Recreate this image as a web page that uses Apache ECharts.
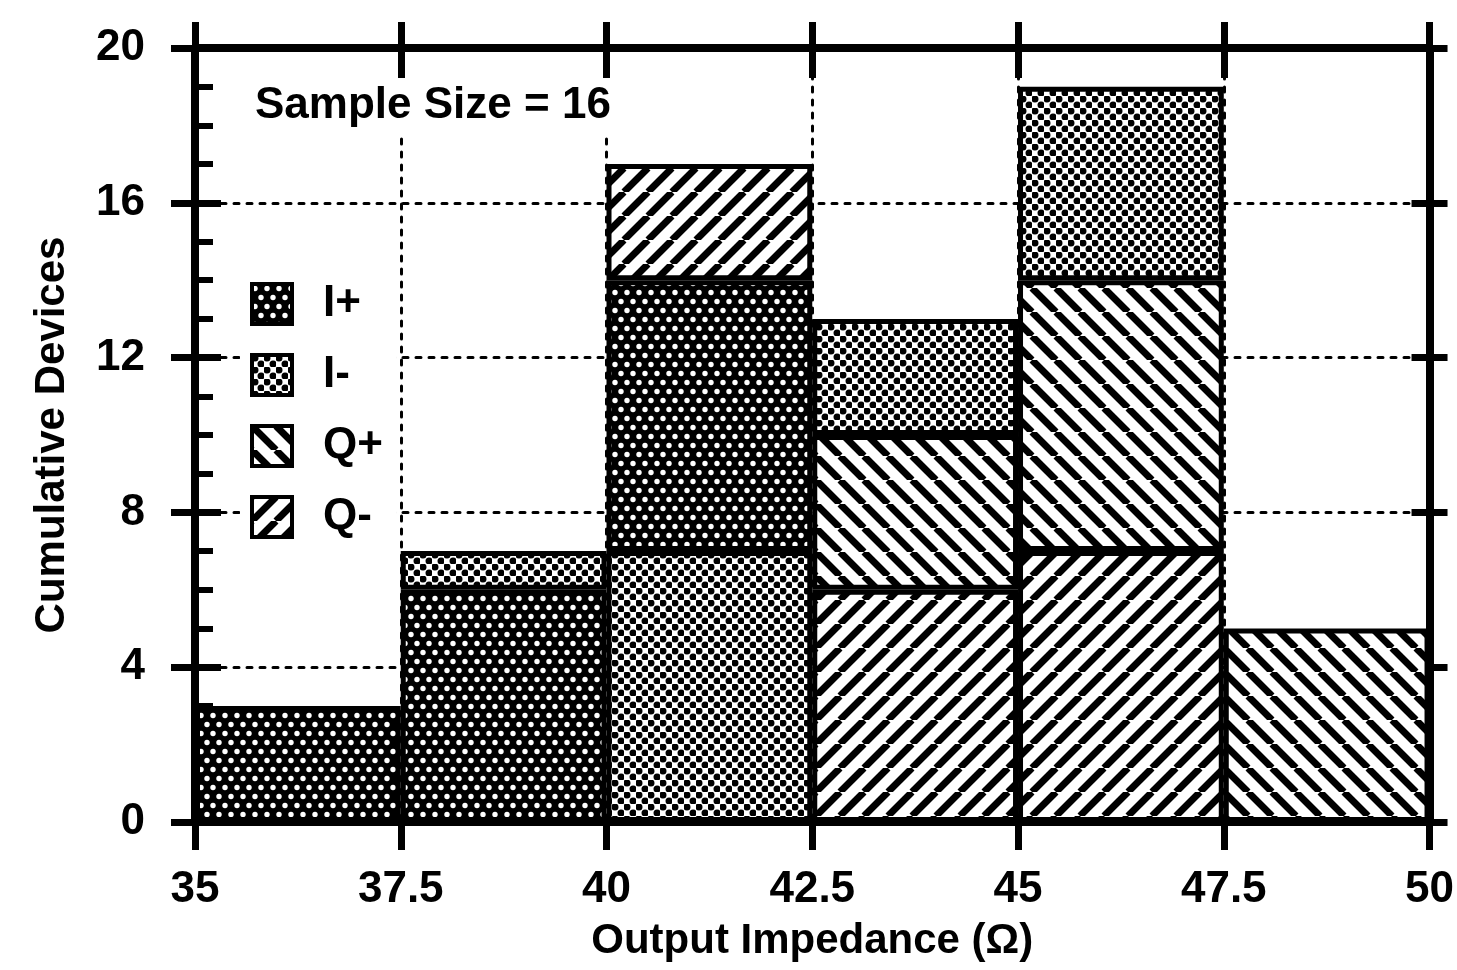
<!DOCTYPE html>
<html>
<head>
<meta charset="utf-8">
<style>
  html, body { margin: 0; padding: 0; background: #fff; }
  #chart { width: 1457px; height: 970px; }
</style>
<script src="https://cdn.jsdelivr.net/npm/echarts@6/dist/echarts.min.js"></script>
</head>
<body>
<div id="chart"></div>
<script>
// histogram bins (lower edge .. upper edge), stacked bottom -> top
var binEdges = [35, 37.5, 40, 42.5, 45, 47.5, 50];
var bins = ['35-37.5', '37.5-40', '40-42.5', '42.5-45', '45-47.5', '47.5-50'];

// the stacking order is not the same in every bin, so I- is split in two series
var iMinusLow  = [null, null, 7, null, null, null];
var iPlus      = [3, 6, 7, null, null, null];
var qMinus     = [null, null, 3, 6, 7, null];
var qPlus      = [null, null, null, 4, 7, 5];
var iMinusHigh = [null, 1, null, 3, 5, null];

var FONT = '"Liberation Sans", Arial, Helvetica, sans-serif';

// fill patterns drawn on small tiles
function pattern(kind) {
    var c = document.createElement('canvas');
    var g;
    if (kind === 'Iplus') {
        c.width = 12; c.height = 18;
        g = c.getContext('2d');
        g.fillStyle = '#000';
        g.fillRect(0, 0, 12, 18);
        g.fillStyle = '#fff';
        [[3, 4.5], [9, 13.5]].forEach(function (p) {
            g.beginPath(); g.arc(p[0], p[1], 2.7, 0, Math.PI * 2); g.fill();
        });
    } else if (kind === 'Iminus') {
        c.width = 12; c.height = 12;
        g = c.getContext('2d');
        g.fillStyle = '#fff';
        g.fillRect(0, 0, 12, 12);
        g.fillStyle = '#000';
        [[3, 3], [9, 9]].forEach(function (p) {
            g.beginPath(); g.arc(p[0], p[1], 3.5, 0, Math.PI * 2); g.fill();
        });
    } else {
        var s = 24;
        c.width = s; c.height = s;
        g = c.getContext('2d');
        g.fillStyle = '#fff';
        g.fillRect(0, 0, s, s);
        g.strokeStyle = '#000';
        g.lineWidth = 7;
        g.beginPath();
        for (var o = -s; o <= s; o += s) {
            if (kind === 'Qplus') {      // "\" stripes
                g.moveTo(o, 0); g.lineTo(o + s, s);
            } else {                     // "/" stripes
                g.moveTo(o, s); g.lineTo(o + s, 0);
            }
        }
        g.stroke();
    }
    return {image: c, repeat: 'repeat'};
}

var fills = {
    'I+': pattern('Iplus'),
    'I-': pattern('Iminus'),
    'Q+': pattern('Qplus'),
    'Q-': pattern('Qminus')
};

function barSeries(name, data) {
    return {
        name: name,
        type: 'bar',
        stack: 'total',
        xAxisIndex: 0,
        yAxisIndex: 0,
        barCategoryGap: '0%',
        data: data,
        itemStyle: {
            color: fills[name],
            borderColor: '#000',
            borderWidth: 5
        },
        emphasis: {disabled: true}
    };
}

var dotted = {show: true, lineStyle: {color: '#000', width: 3, type: [5, 8], cap: 'round'}};
var thick = {show: true, onZero: false, lineStyle: {color: '#000', width: 8}};
var noLine = {show: false, onZero: false};

var myChart = echarts.init(document.getElementById('chart'));
var option = {
    animation: false,
    backgroundColor: '#fff',
    textStyle: {fontFamily: FONT, color: '#000'},
    grid: {left: 195, right: 25, top: 48, bottom: 148},
    title: {
        text: 'Sample Size = 16',
        left: 245,
        top: 78,
        padding: [6, 10],
        backgroundColor: '#fff',
        textStyle: {fontFamily: FONT, fontSize: 44, fontWeight: 'bold', color: '#000'}
    },
    legend: {
        data: ['I+', 'I-', 'Q+', 'Q-'],
        orient: 'vertical',
        left: 240,
        top: 276,
        padding: [6, 14, 6, 10],
        backgroundColor: '#fff',
        icon: 'rect',
        itemWidth: 40,
        itemHeight: 40,
        itemGap: 27,
        selectedMode: false,
        itemStyle: {borderColor: '#000', borderWidth: 4},
        textStyle: {fontFamily: FONT, fontSize: 44, fontWeight: 'bold', color: '#000', padding: [0, 0, 0, 26]}
    },
    xAxis: [
        {type: 'category', data: bins, show: false},
        {
            type: 'value',
            position: 'bottom',
            min: binEdges[0],
            max: binEdges[binEdges.length - 1],
            interval: 2.5,
            axisLine: thick,
            axisTick: {show: true, length: 28, lineStyle: {color: '#000', width: 7}},
            axisLabel: {
                fontFamily: FONT, fontSize: 44, fontWeight: 'bold', color: '#000',
                margin: 46, showMinLabel: true, showMaxLabel: true
            },
            splitLine: dotted,
            name: 'Output Impedance (\u03A9)',
            nameLocation: 'middle',
            nameGap: 98,
            nameTextStyle: {fontFamily: FONT, fontSize: 42, fontWeight: 'bold', color: '#000'}
        },
        {
            type: 'value',
            position: 'top',
            min: binEdges[0],
            max: binEdges[binEdges.length - 1],
            interval: 2.5,
            axisLine: thick,
            axisTick: {show: true, length: 26, lineStyle: {color: '#000', width: 7}},
            axisLabel: {show: false},
            splitLine: {show: false}
        },
        {
            type: 'value',
            position: 'top',
            min: binEdges[0],
            max: binEdges[binEdges.length - 1],
            interval: 2.5,
            axisLine: noLine,
            axisTick: {show: true, inside: true, length: 30, lineStyle: {color: '#000', width: 7}},
            axisLabel: {show: false},
            splitLine: {show: false}
        }
    ],
    yAxis: [
        {
            type: 'value',
            position: 'left',
            min: 0,
            max: 20,
            interval: 4,
            axisLine: thick,
            axisTick: {show: true, length: 24, lineStyle: {color: '#000', width: 7}},
            axisLabel: {fontFamily: FONT, fontSize: 44, fontWeight: 'bold', color: '#000', margin: 50},
            splitLine: dotted,
            name: 'Cumulative Devices',
            nameLocation: 'middle',
            nameGap: 122,
            nameTextStyle: {fontFamily: FONT, fontSize: 42, fontWeight: 'bold', color: '#000'}
        },
        {
            type: 'value',
            position: 'left',
            min: 0,
            max: 20,
            interval: 4,
            axisLine: noLine,
            axisTick: {show: true, inside: true, length: 26, lineStyle: {color: '#000', width: 7}},
            minorTick: {show: true, splitNumber: 4, length: 18, lineStyle: {color: '#000', width: 6}},
            axisLabel: {show: false},
            splitLine: {show: false}
        },
        {
            type: 'value',
            position: 'right',
            min: 0,
            max: 20,
            interval: 4,
            axisLine: thick,
            axisTick: {show: true, length: 18, lineStyle: {color: '#000', width: 7}},
            axisLabel: {show: false},
            splitLine: {show: false}
        },
        {
            type: 'value',
            position: 'right',
            min: 0,
            max: 20,
            interval: 4,
            axisLine: noLine,
            axisTick: {show: true, inside: true, length: 18, lineStyle: {color: '#000', width: 7}},
            axisLabel: {show: false},
            splitLine: {show: false}
        }
    ],
    series: [
        barSeries('I-', iMinusLow),
        barSeries('I+', iPlus),
        barSeries('Q-', qMinus),
        barSeries('Q+', qPlus),
        barSeries('I-', iMinusHigh)
    ]
};

myChart.setOption(option);
</script>
</body>
</html>
